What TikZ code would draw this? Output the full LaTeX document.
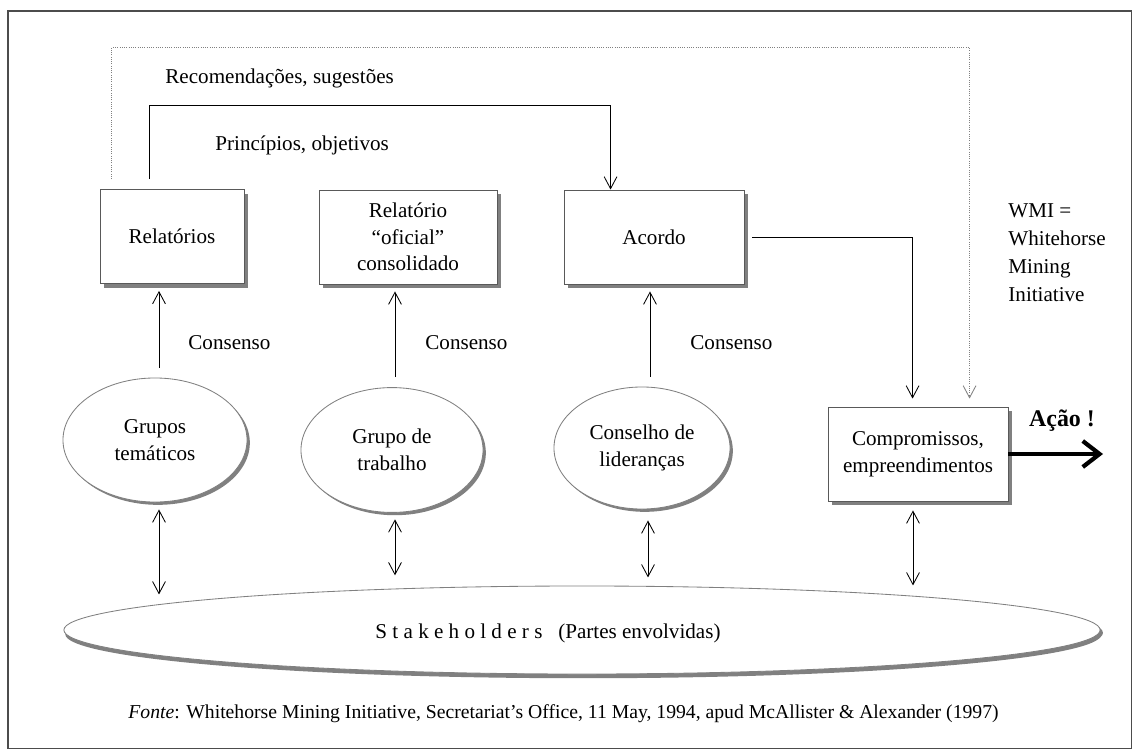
\documentclass[tikz,border=0pt]{standalone}
\usepackage{fontspec}
\setmainfont{Liberation Serif}
\usepackage{tikz}
\usetikzlibrary{calc, arrows.meta, shapes.geometric, shadows}
\newcommand{\txt}{\fontsize{15}{19}\selectfont}
\tikzstyle{blk}=[draw=gray!70!black, fill=white, minimum width=4.5cm, minimum height=2.35cm, align=center, drop shadow={shadow xshift=3pt, shadow yshift=-3pt, fill=gray, opacity=1}]
\tikzstyle{grp}=[ellipse, draw=gray, fill=white, align=center, drop shadow={shadow xshift=2pt, shadow yshift=-2pt, fill=gray, opacity=1}]
\tikzstyle{lbl}=[inner sep=0pt, font=\txt]

\begin{document}
\begin{tikzpicture}[x=0.025cm,y=-0.025cm,>={Straight Barb[length=0.3cm,width=0.32cm]},every node/.style={font=\txt},line width=0.6pt]
      \useasboundingbox (0,0) rectangle (1132,749);
      \draw[gray!60!black, line width=0.8pt] (8,11) rectangle (1131.5,748.5);

      % boxes
      \node [blk, minimum width=3.6cm] (rel) at (172,236.5) {Relatórios};
      \node [blk, minimum width=4.45cm] (ofi) at (408,237) {Relatório\\“oficial”\\consolidado};
      \node [blk] (aco) at (654,237) {Acordo};
      \node [blk] (comp) at (918,454) {Compromissos,\\empreendimentos};

      % groups
      \node [grp, minimum width=4.6cm, minimum height=3.1cm] (gt) at (155,440) {Grupos\\temáticos};
      \node [grp, minimum width=4.55cm, minimum height=3.12cm] (gtr) at (392,450) {Grupo de\\trabalho};
      \node [grp, minimum width=4.4cm, minimum height=3.05cm] (cl) at (642,448) {Conselho de\\lideranças};
      \node [grp, minimum width=25.9cm, minimum height=2.2cm, drop shadow={shadow xshift=1pt, shadow yshift=-3pt, fill=gray, opacity=1}] (stk) at (582,630) {};
      \node [lbl] (stkt) at (548,633) {S t a k e h o l d e r s\ \ \ (Partes envolvidas)};

      % consenso
      \draw[->] ($(gt.north)+(4,-10)$) -- ($(rel.south)+(-13,7)$);
      \draw[->] ($(gtr.north)+(3,-10)$) -- ($(ofi.south)+(-13,7)$);
      \draw[->] ($(cl.north)+(8,-10)$) -- ($(aco.south)+(-4,7)$);
      \node [lbl, anchor=west] (cs1) at (188,343) {Consenso};
      \node [lbl, anchor=west] (cs2) at (425,343) {Consenso};
      \node [lbl, anchor=west] (cs3) at (690,343) {Consenso};

      % stakeholders
      \draw[<->] ($(gt.south)+(4,7)$) -- ($(gt.south)+(4,92)$);
      \draw[<->] ($(gtr.south)+(3,6.5)$) -- ($(gtr.south)+(3,62.5)$);
      \draw[<->] ($(cl.south)+(6,11)$) -- ($(cl.south)+(6,68)$);
      \draw[<->] ($(comp.south)+(-5,9)$) -- ($(comp.south)+(-5,84)$);

      % feedback
      \draw[->, densely dotted, gray] ($(rel.north west)+(12,-10)$) |- ($(comp.north west)+(142,-359)$) -- ($(comp.north west)+(142,-8)$);
      \draw[->] ($(rel.north west)+(50,-10)$) |- ($(aco.north west)+(47,-84)$) -- ($(aco.north west)+(47,0)$);
      \draw[->] ($(aco.east)+(8,0)$) -| ($(comp.north west)+(85,-8)$);
      \node [lbl, anchor=west] (rec) at (165,78) {Recomendações, sugestões};
      \node [lbl, anchor=west] (pri) at (215,145) {Princípios, objetivos};

      \node [lbl, anchor=north west, align=left, font=\fontsize{15}{20}\selectfont] (wmi) at (1008,203) {WMI =\\Whitehorse\\Mining\\Initiative};

      % action
      \coordinate (out) at (1103,454);
      \draw[line width=3pt, -{Straight Barb[length=0.42cm,width=0.65cm]}] (comp.east) -- (out);
      \node [lbl, font=\fontsize{17}{19}\selectfont\bfseries] (acao) at (1062,421) {Ação !};

      \node [lbl, anchor=west, font=\fontsize{14}{16}\selectfont] (src) at (128,714) {\textit{Fonte}: Whitehorse Mining Initiative, Secretariat’s Office, 11 May, 1994, apud McAllister \& Alexander (1997)};
  \end{tikzpicture}
\end{document}
